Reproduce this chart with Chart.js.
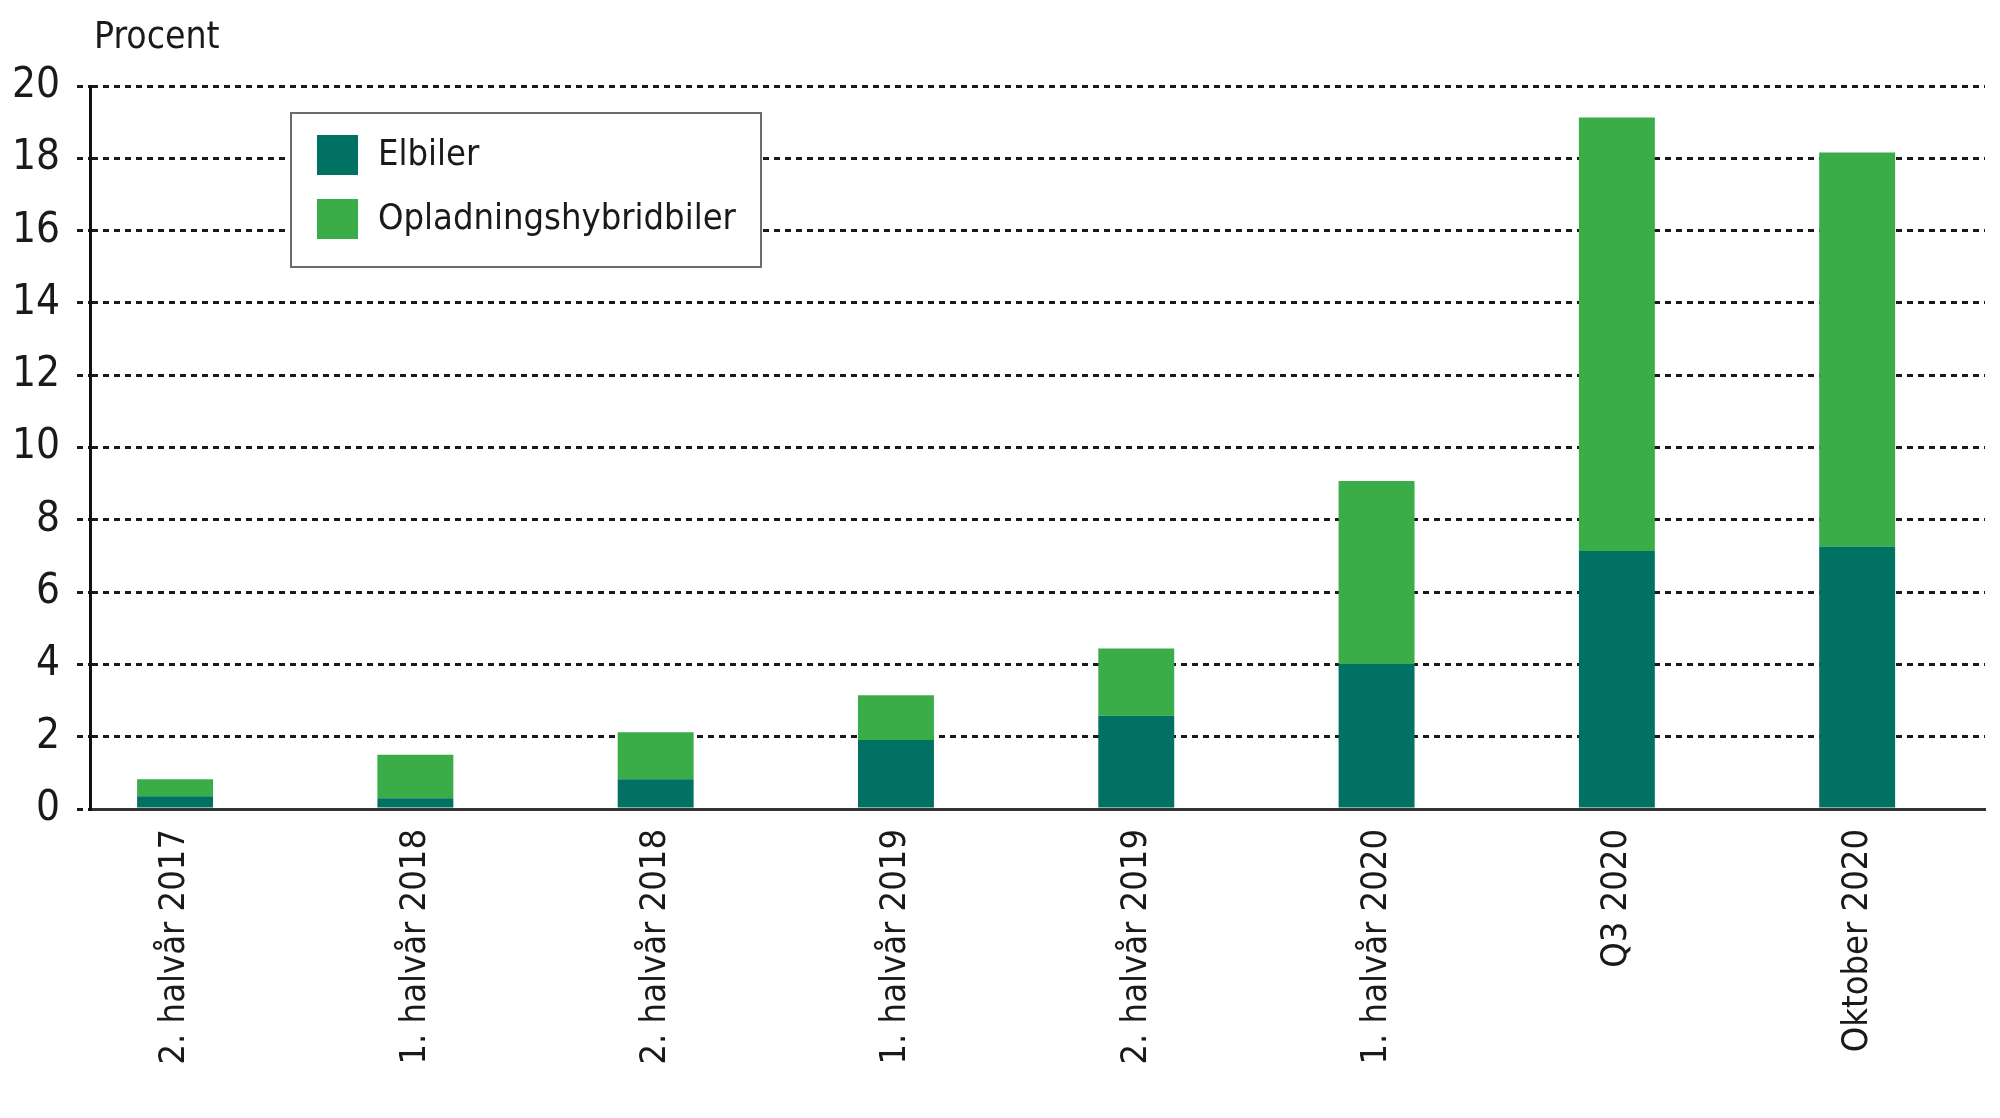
<!DOCTYPE html>
<html>
<head>
<meta charset="utf-8">
<script src="https://cdn.jsdelivr.net/npm/chart.js@4.4.1/dist/chart.umd.min.js"></script>
<style>
  html, body { margin: 0; padding: 0; background: #fff; }
  #wrap { width: 2000px; height: 1118px; }
</style>
</head>
<body>
<div id="wrap"><canvas id="evChart" width="2000" height="1118"></canvas></div>
<script>
// data (percent of new car sales)
const categories = [
  "2. halvår 2017", "1. halvår 2018", "2. halvår 2018", "1. halvår 2019",
  "2. halvår 2019", "1. halvår 2020", "Q3 2020", "Oktober 2020",
];
const elbiler = [0.35, 0.30, 0.82, 1.91, 2.58, 4.01, 7.14, 7.26];
const hybrid = [0.47, 1.20, 1.30, 1.24, 1.86, 5.06, 11.99, 10.90];
const seriesNames = ["Elbiler", "Opladningshybridbiler"];
const yMax = 20;
const yStep = 2;

const FONT = '"DejaVu Sans Condensed", "Liberation Sans Narrow", sans-serif';
const TEXT = "#1a1a1a";
Chart.defaults.font.family = FONT;
Chart.defaults.color = TEXT;

// y-axis unit label and the boxed legend
const overlayPlugin = {
  id: "overlay",
  afterDraw(chart) {
    const ctx = chart.ctx;
    ctx.save();
    ctx.font = "37px " + FONT;
    ctx.fillStyle = TEXT;
    ctx.textBaseline = "alphabetic";
    ctx.fillText("Procent", 94, 48);

    ctx.fillStyle = "#fff";
    ctx.fillRect(291, 113, 470, 154);
    ctx.strokeStyle = "#6b6b6b";
    ctx.lineWidth = 2;
    ctx.strokeRect(291, 113, 470, 154);

    ctx.font = "36px " + FONT;
    ctx.textBaseline = "middle";
    chart.data.datasets.forEach((ds, i) => {
      const y = 135 + i * 64;
      ctx.fillStyle = ds.backgroundColor;
      ctx.fillRect(317, y, 41, 40);
      ctx.fillStyle = TEXT;
      ctx.fillText(ds.label, 378, y + 21);
    });
    ctx.restore();
  },
};

const ctx = document.getElementById("evChart").getContext("2d");
const chart = new Chart(ctx, {
  type: "bar",
  data: {
    datasets: [
      {
        label: seriesNames[0],
        data: elbiler.map((v, i) => ({ x: i, y: v })),
        backgroundColor: "#007163",
      },
      {
        label: seriesNames[1],
        data: hybrid.map((v, i) => ({ x: i, y: v })),
        backgroundColor: "#3aac48",
      },
    ],
  },
  options: {
    responsive: false,
    animation: false,
    devicePixelRatio: 1,
    categoryPercentage: 0.316,
    barPercentage: 1,
    layout: { padding: { top: 86, right: 15, left: 0, bottom: 0 } },
    plugins: {
      legend: { display: false },
      tooltip: { enabled: false },
    },
    scales: {
      x: {
        type: "linear",
        bounds: "data",
        offset: false,
        min: -0.354,
        max: 7.532,
        stacked: true,
        grid: { display: false, drawTicks: false, offset: false },
        border: { display: true, color: "#333", width: 3 },
        afterBuildTicks: (scale) => {
          scale.ticks = categories.map((c, i) => ({ value: i }));
        },
        afterFit: (scale) => {
          scale.height = 309;
        },
        ticks: {
          autoSkip: false,
          minRotation: 90,
          maxRotation: 90,
          padding: 20,
          color: TEXT,
          font: { size: 36 },
          callback: (v) => categories[v] ?? "",
        },
      },
      y: {
        stacked: true,
        min: 0,
        max: yMax,
        afterFit: (scale) => {
          scale.width = 90;
        },
        ticks: {
          stepSize: yStep,
          padding: 17,
          color: TEXT,
          font: { size: 42 },
        },
        grid: {
          color: "#1a1a1a",
          lineWidth: 3,
          tickLength: 13,
          tickColor: "#1a1a1a",
          tickWidth: 3,
          tickBorderDash: [6, 5],
        },
        border: { display: true, color: "#111", width: 3, dash: [6, 5] },
      },
    },
  },
  plugins: [overlayPlugin],
});
</script>
</body>
</html>
